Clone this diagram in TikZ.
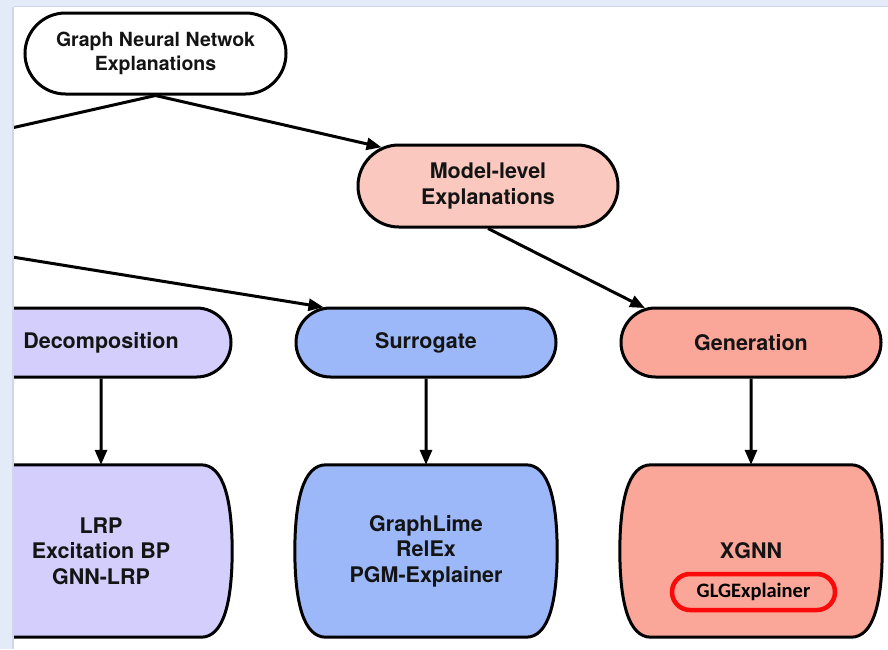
\documentclass[tikz,border=0pt]{standalone}
\usepackage{fontspec}
\setmainfont{TeX Gyre Heros}
\newfontfamily\calibfont{Carlito}
\usetikzlibrary{shapes.misc,arrows.meta}

\definecolor{frameblue}{RGB}{227,234,248}
\definecolor{frameedge}{RGB}{205,214,234}
\definecolor{decfill}{RGB}{212,206,252}
\definecolor{surfill}{RGB}{156,184,248}
\definecolor{modfill}{RGB}{250,200,190}
\definecolor{genfill}{RGB}{250,166,152}
\definecolor{inktext}{RGB}{20,20,20}
\definecolor{ringred}{RGB}{250,10,10}

\pgfdeclarelayer{paper}
\pgfdeclarelayer{shapes}
\pgfdeclarelayer{frame}
\pgfsetlayers{paper,shapes,main,frame}

\tikzset{
  every node/.style={text=inktext, align=center,
    font=\bfseries\fontsize{21.5}{25.5}\selectfont},
  pill/.style={rounded rectangle, draw=black, line width=3pt,
    minimum width=260pt, minimum height=69pt, inner sep=0pt},
  boxarea/.style={rectangle, minimum width=260pt, minimum height=172pt, inner sep=0pt},
  arr/.style={line width=3pt, -{Triangle[length=15pt,width=12pt]}},
  link/.style={line width=3pt},
  redring/.style={rounded rectangle, draw=ringred, line width=4.5pt,
    minimum width=163pt, minimum height=36pt, inner sep=0pt, text=black,
    font=\calibfont\bfseries\fontsize{20.5}{22}\selectfont},
}

% barrel-shaped box: flat top and bottom, bulging sides
\newcommand\barrelbox[2]{%
  \begin{pgfonlayer}{shapes}
  \draw[line width=3pt, fill=#2]
    ([xshift=-100pt]#1.north) -- ([xshift=100pt]#1.north)
    .. controls ([xshift=123pt]#1.north) and ([xshift=131pt,yshift=-36pt]#1.north) .. ([xshift=1pt]#1.east)
    .. controls ([xshift=131pt,yshift=36pt]#1.south) and ([xshift=123pt]#1.south) .. ([xshift=100pt]#1.south)
    -- ([xshift=-100pt]#1.south)
    .. controls ([xshift=-123pt]#1.south) and ([xshift=-131pt,yshift=36pt]#1.south) .. ([xshift=-1pt]#1.west)
    .. controls ([xshift=-131pt,yshift=-36pt]#1.north) and ([xshift=-123pt]#1.north) .. cycle;
  \end{pgfonlayer}}

\begin{document}
\begin{tikzpicture}[x=1pt,y=-1pt]
\useasboundingbox (0,0) rectangle (888,649);
\begin{pgfonlayer}{paper}
  \fill[white] (0,0) rectangle (888,649);
\end{pgfonlayer}

% top level
\node[pill, fill=white, minimum width=261pt, minimum height=81pt,
      font=\bfseries\fontsize{19.5}{24}\selectfont] (root) at (155.5,53.5)
      {Graph Neural Netwok\\Explanations};
\node[pill, fill=modfill, minimum height=82pt] (model) at (488,186)
      {Model-level\\Explanations};

% method families
\node[pill, fill=decfill] (dec) at (101,342.5) {Decomposition};
\node[pill, fill=surfill] (sur) at (426,342.5) {Surrogate};
\node[pill, fill=genfill] (gen) at (751,342.5) {Generation};

% method lists
\node[boxarea] (decbox) at (101,551) {LRP\\Excitation BP\\GNN-LRP};
\node[boxarea] (surbox) at (426,551) {GraphLime\\RelEx\\PGM-Explainer};
\node[boxarea] (genbox) at (751,551) {XGNN};
\barrelbox{decbox}{decfill}
\barrelbox{surbox}{surfill}
\barrelbox{genbox}{genfill}

\node[redring] (glg) at (753.5,592) {GLGExplainer};

% connectors
\coordinate (offa) at (0,130.6);
\coordinate (offb) at (0,255);
\draw[link] (root.south) -- (offa);
\draw[arr] (root.south) -- (model.160);
\draw[arr] (offb) -- (sur.161);
\draw[arr] (model.south) -- (gen.162);
\draw[arr] (dec) -- (decbox);
\draw[arr] (sur) -- (surbox);
\draw[arr] (gen) -- (genbox);

% window frame
\begin{pgfonlayer}{frame}
  \fill[frameblue] (0,0) rectangle (888,7);
  \fill[frameblue] (0,0) rectangle (14,649);
  \fill[frameedge] (12,7) rectangle (14,649);
  \fill[frameedge] (14,5.5) rectangle (888,7);
\end{pgfonlayer}
\end{tikzpicture}
\end{document}
